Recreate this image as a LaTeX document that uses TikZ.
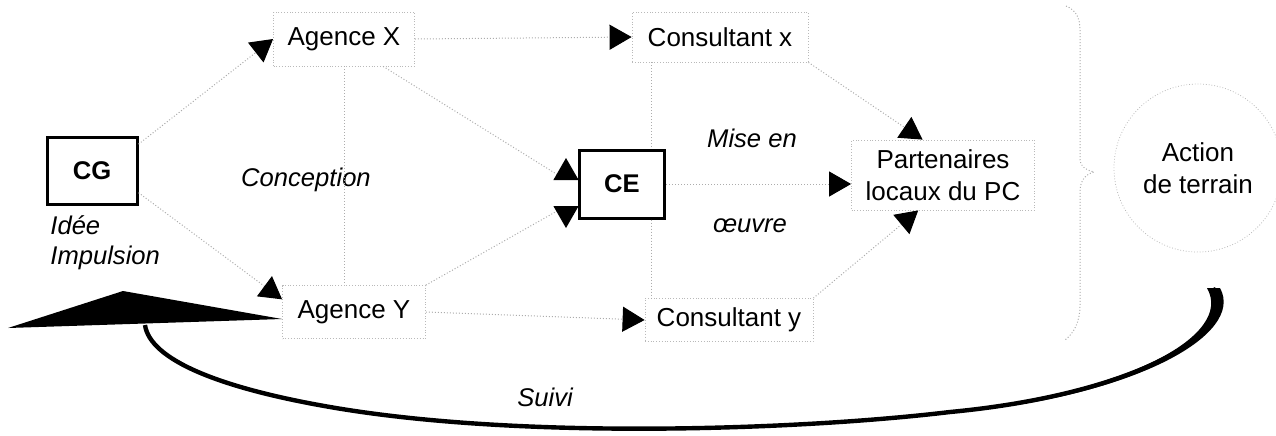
\documentclass[tikz,border=0pt]{standalone}
\usepackage{fontspec}
\setmainfont{Liberation Sans}
\usetikzlibrary{arrows.meta,calc}

\tikzset{
  box/.style={draw=gray!55, densely dotted, line width=0.4pt, fill=white},
  keybox/.style={draw=black, line width=1.5pt, fill=white, font=\fontsize{12.8}{16}\selectfont\bfseries},
  note/.style={font=\fontsize{12.8}{15}\selectfont\itshape},
  link/.style={draw=gray!65, densely dotted, line width=0.5pt},
  tip/.style={-{Triangle[length=11pt,width=12.5pt,color=black]}}
}

\begin{document}
\begin{tikzpicture}[x=0.5pt,y=-0.5pt]
\useasboundingbox (0,0) rectangle (1276,435);
\begin{scope}[every node/.style={font=\fontsize{13}{16}\selectfont, inner sep=0pt}]

\node [box, minimum width=70.5pt, minimum height=27pt] (agx) at (344,39) {Agence X};
\node [box, minimum width=88pt, minimum height=25pt] (csx) at (720,37) {Consultant x};
\node [keybox, minimum width=45pt, minimum height=33.5pt] (cg) at (92,171) {CG};
\node [keybox, minimum width=42.5pt, minimum height=34pt] (ce) at (622,184) {CE};
\node [box, minimum width=91.5pt, minimum height=35pt, align=center] (part) at (943,175) {Partenaires\\locaux du PC};
\node [box, minimum width=71.5pt, minimum height=26.5pt] (agy) at (354,312) {Agence Y};
\node [box, minimum width=84pt, minimum height=21.5pt] (csy) at (729,320) {Consultant y};
\node [circle, draw=gray!55, densely dotted, minimum size=84pt, align=center] (act) at (1198,168) {Action\\de terrain};

\node [note] (conc) at (306,180) {Conception};
\node [note, align=left, anchor=north west] (idee) at (50,215) {Idée\\Impulsion};
\node [note] (mise) at (752,138) {Mise en};
\node [note] (oeuv) at (750,226) {œuvre};
\node [note] (suivi) at (545,397) {Suivi};

\draw [link, tip] (cg.30) -- (agx.west);
\draw [link, tip] (cg.-25) -- (agy.170);
\draw [link, tip] (agx.east) -- (csx.west);
\draw [link] (agx.south) -- (agx.south |- agy.north);

\coordinate (ceu) at ($(ce.west)+(-12,-26)$);
\coordinate (ced) at ($(ce.west)+(-12,44)$);
\draw [link, tip] (agx.-35) -- ($(ceu)+(0,22)$) -- (ceu);
\draw [link, tip] (agy.north east) -- ($(ced)+(0,-22)$) -- (ced);

\draw [link, tip] (ce.east) -- (ce.east -| part.west);
\draw [link, tip] (csx.south east) -- (part.120);
\draw [link, tip] (csy.north east) -- (part.-125);
\draw [link, tip] (agy.east) -- (csy.west);

\coordinate (mtop) at ($(csx.south west)+(20,0)$);
\draw [link] (mtop) -- (mtop |- ce.north);
\draw [link] (mtop |- ce.south) -- (mtop |- csy.north);

\draw [link] (1066,6) .. controls (1076,10) and (1080,18) .. (1080,30) -- (1080,160)
  .. controls (1080,166) and (1086,170) .. (1094,172)
  .. controls (1086,174) and (1080,180) .. (1080,192) -- (1080,305)
  .. controls (1080,322) and (1074,333) .. (1065,340);

\coordinate (sv1) at (1213,288);
\coordinate (sv2) at (145,325);
\draw [line width=2.2pt] (sv1) .. controls (1240,335) and (1130,395) .. (950,412)
  .. controls (800,430) and (520,440) .. (330,407)
  .. controls (220,388) and (150,360) .. (sv2);
\fill (1220,288) .. controls (1246,335) and (1132,398) .. (950,413)
  -- (950,411) .. controls (1129,393) and (1234,335) .. (1207,288) -- cycle;
\fill (8,328) -- (123,291) -- (282,319) -- cycle;

\end{scope}
\end{tikzpicture}
\end{document}
